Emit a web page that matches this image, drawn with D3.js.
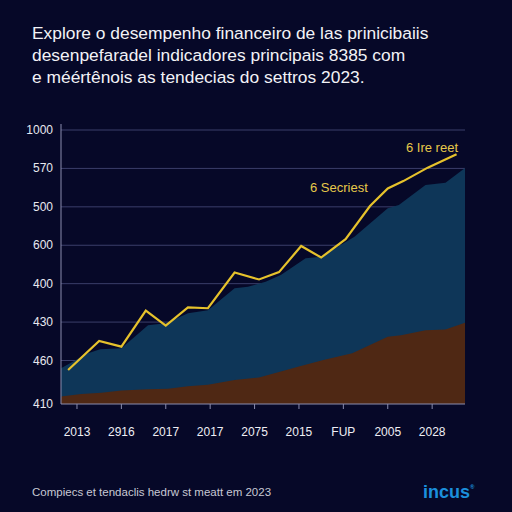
<!DOCTYPE html>
<html lang="en">
<head>
    <meta charset="UTF-8">
    <title>Chart</title>
    <style>
        body { margin: 0; background: #060828; }
        svg { display: block; font-family: "Liberation Sans", Arial, sans-serif; }
    </style>
</head>
<body>

    <svg id="svg" width="512" height="512"></svg>

    <script src="https://d3js.org/d3.v7.min.js"></script>
    <script>
        // text
        const titleLines = [
            'Explore o desempenho financeiro de las prinicibaiis',
            'desenpefaradel indicadores principais 8385 com',
            'e méértênois as tendecias do settros 2023.'
        ]
        const footer = 'Compiecs et tendaclis hedrw st meatt em 2023'

        // axes
        const yTickLabels = ['410', '460', '430', '400', '600', '500', '570', '1000']
        const xTickLabels = ['2013', '2916', '2017', '2017', '2075', '2015', 'FUP', '2005', '2028']
        const xTickPos = [1, 3, 5, 7, 9, 11, 13, 15, 17]

        // yellow line
        const lineT = [0.6, 2, 3, 4.1, 5, 6, 6.9, 8.1, 9.2, 10.1, 11.1, 12, 13.1, 14.2, 15, 15.7, 16.8, 18.1]
        const lineV = [0.78, 1.51, 1.36, 2.3, 1.91, 2.38, 2.36, 3.29, 3.11, 3.3, 3.98, 3.68, 4.16, 5.02, 5.48, 5.67, 6.02, 6.37]

        // blue area
        const blueT = [0.28, 1.5, 2.04, 3, 4.2, 5, 6, 6.9, 8.1, 8.7, 9.5, 10.2, 11.3, 12, 13.5, 15, 15.5, 16.7, 17.6, 18.48]
        const blueV = [0.82, 1.19, 1.29, 1.32, 1.92, 1.97, 2.23, 2.31, 2.88, 2.92, 3.05, 3.23, 3.66, 3.7, 4.22, 4.96, 5.05, 5.57, 5.63, 6.01]

        // brown area
        const brownT = [0.28, 1.2, 2.1, 3, 4.2, 5.1, 6, 6.9, 8.1, 9.2, 11, 12.1, 13.4, 15, 15.6, 16.7, 17.6, 18.48]
        const brownV = [0.17, 0.23, 0.26, 0.31, 0.34, 0.35, 0.41, 0.44, 0.55, 0.61, 0.86, 1.01, 1.19, 1.62, 1.66, 1.79, 1.81, 1.98]

        const svg = d3.select('#svg')

        svg.append('rect').attr('width', 512).attr('height', 512).attr('fill', '#060828')

        const xScale = d3.scaleLinear()
            .domain([0.28, 18.48])
            .range([61, 465])

        // bottom interval is a bit taller than the others
        const yScale = d3.scaleLinear()
            .domain([0, 1, 7])
            .range([404, 360.5, 130])

        // title
        svg.append('g').selectAll('text')
            .data(titleLines)
            .enter()
            .append('text')
            .attr('x', 32)
            .attr('y', (d, i) => 39 + i * 22)
            .attr('fill', '#f2f2f6')
            .attr('font-size', 17.4)
            .text(d => d)

        // gridlines
        svg.append('g').selectAll('line')
            .data(d3.range(1, 8))
            .enter()
            .append('line')
            .attr('x1', 61)
            .attr('x2', 465)
            .attr('y1', d => yScale(d))
            .attr('y2', d => yScale(d))
            .attr('stroke', '#3b3e6a')
            .attr('stroke-width', 1)

        svg.append('path')
            .datum(blueT.map((t, i) => ({ t, v: blueV[i] })))
            .attr('d', d3.area().x(d => xScale(d.t)).y0(yScale(0)).y1(d => yScale(d.v)))
            .attr('fill', '#0e3658')

        svg.append('path')
            .datum(brownT.map((t, i) => ({ t, v: brownV[i] })))
            .attr('d', d3.area().x(d => xScale(d.t)).y0(yScale(0)).y1(d => yScale(d.v)))
            .attr('fill', '#4f2814')

        svg.append('path')
            .datum(lineT.map((t, i) => ({ t, v: lineV[i] })))
            .attr('d', d3.line().x(d => xScale(d.t)).y(d => yScale(d.v)))
            .attr('fill', 'none')
            .attr('stroke', '#e6c22c')
            .attr('stroke-width', 2.2)

        // axis lines
        svg.append('line')
            .attr('x1', 61).attr('x2', 61)
            .attr('y1', 124).attr('y2', yScale(0))
            .attr('stroke', '#8a8cae')
        svg.append('line')
            .attr('x1', 61).attr('x2', 465)
            .attr('y1', yScale(0)).attr('y2', yScale(0))
            .attr('stroke', '#8a8cae')

        // y labels
        svg.append('g').selectAll('text')
            .data(yTickLabels)
            .enter()
            .append('text')
            .attr('x', 53)
            .attr('y', (d, i) => yScale(i) + 4)
            .attr('text-anchor', 'end')
            .attr('fill', '#e8e8f0')
            .attr('font-size', 12)
            .text(d => d)

        // x ticks + labels
        svg.append('g').selectAll('line')
            .data(xTickPos)
            .enter()
            .append('line')
            .attr('x1', d => xScale(d))
            .attr('x2', d => xScale(d))
            .attr('y1', yScale(0))
            .attr('y2', yScale(0) + 5)
            .attr('stroke', '#8a8cae')

        svg.append('g').selectAll('text')
            .data(xTickLabels)
            .enter()
            .append('text')
            .attr('x', (d, i) => xScale(xTickPos[i]))
            .attr('y', 436)
            .attr('text-anchor', 'middle')
            .attr('fill', '#eeeef4')
            .attr('font-size', 12)
            .text(d => d)

        // annotations
        svg.append('text')
            .attr('x', 458).attr('y', 152)
            .attr('text-anchor', 'end')
            .attr('fill', '#e6c84a')
            .attr('font-size', 13)
            .text('6 Ire reet')
        svg.append('text')
            .attr('x', 310).attr('y', 192)
            .attr('fill', '#e6c84a')
            .attr('font-size', 13)
            .text('6 Secriest')

        // footer
        svg.append('text')
            .attr('x', 32).attr('y', 496)
            .attr('fill', '#c8c8d4')
            .attr('font-size', 11.5)
            .text(footer)

        const logo = svg.append('text')
            .attr('x', 423).attr('y', 498)
            .attr('fill', '#1b8fdc')
            .attr('font-size', 18)
            .attr('font-weight', 'bold')
        logo.append('tspan').text('incus')
        logo.append('tspan').attr('font-size', 6).attr('dy', -9).text('®')
    </script>
</body>
</html>
